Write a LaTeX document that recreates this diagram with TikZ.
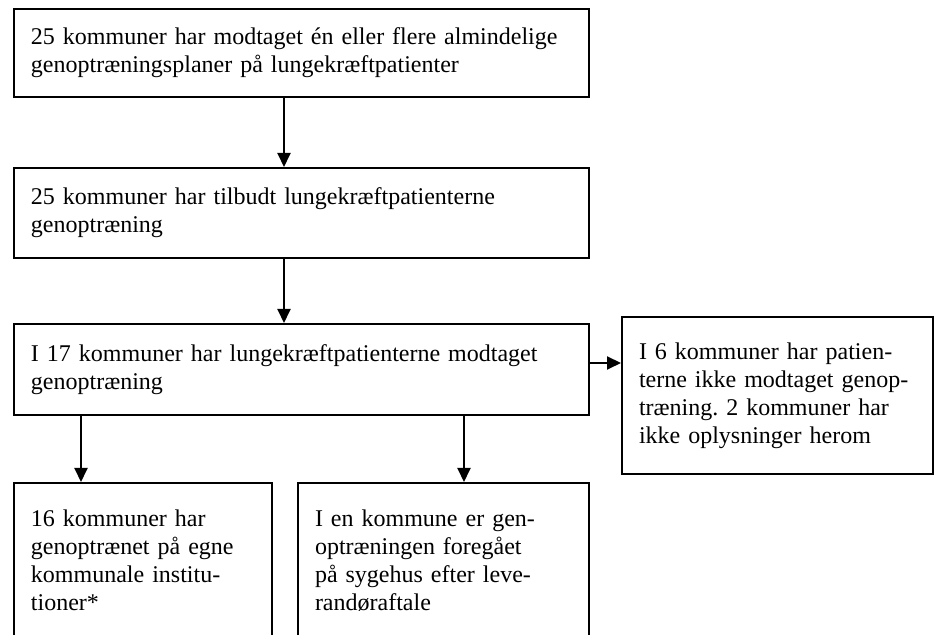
\documentclass[tikz,border=0pt]{standalone}
\usepackage{fontspec}
\setmainfont{Liberation Serif}
\usetikzlibrary{arrows.meta}
\frenchspacing

\tikzset{
    flowbox/.style={draw, line width=1pt, anchor=north west,
        inner xsep=8.5pt, inner ysep=3pt, font=\fontsize{12}{14}\selectfont,
        execute at begin node={\rightskip=0pt minus 1000pt\hyphenpenalty=10000}},
    openbox/.style={flowbox, inner ysep=13.5pt, text depth=90pt},
    flowarrow/.style={line width=1pt, -{Triangle[length=7pt,width=6.5pt]}}
}

\begin{document}
\begin{tikzpicture}[x=0.5pt,y=-0.5pt]
            \useasboundingbox (0,0) rectangle (934,635);
            \clip (0,0) rectangle (934,635);
            \node [flowbox,text width=270.5pt,minimum height=44pt] (plans) at (13,8)
                {25 kommuner har modtaget én eller flere almindelige\\
                 genoptræningsplaner på lungekræftpatienter};
            \node [flowbox,text width=270.5pt,minimum height=45pt] (offered) at (13,167)
                {25 kommuner har tilbudt lungekræftpatienterne\\
                 genoptræning};
            \node [flowbox,text width=270.5pt,minimum height=45.5pt] (trained) at (13,323)
                {I 17 kommuner har lungekræftpatienterne modtaget\\
                 genoptræning};
            \node [flowbox,text width=138.5pt,minimum height=78.5pt] (nottrained) at (621,316)
                {I 6 kommuner har patien-\\
                 terne ikke modtaget genop-\\
                 træning. 2 kommuner har\\
                 ikke oplysninger herom};
            % the two lower boxes run off the page
            \node [openbox,text width=112pt] (own) at (13,482)
                {16 kommuner har\\
                 genoptrænet på egne\\
                 kommunale institu-\\
                 tioner*};
            \node [openbox,text width=128.5pt] (hospital) at (297,482)
                {I en kommune er gen-\\
                 optræningen foregået\\
                 på sygehus efter leve-\\
                 randøraftale};
            \draw [flowarrow] ([xshift=-8.75pt]plans.south) -- ([xshift=-8.75pt]offered.north);
            \draw [flowarrow] ([xshift=-8.75pt]offered.south) -- ([xshift=-8.75pt]trained.north);
            \draw [flowarrow] ([yshift=3.25pt]trained.east) -- ([yshift=3.25pt]trained.east -| nottrained.west);
            \draw [flowarrow] ([xshift=-110.25pt]trained.south) -- ([xshift=-110.25pt]trained.south |- own.north);
            \draw [flowarrow] ([xshift=81.25pt]trained.south) -- ([xshift=81.25pt]trained.south |- hospital.north);
\end{tikzpicture}
\end{document}
